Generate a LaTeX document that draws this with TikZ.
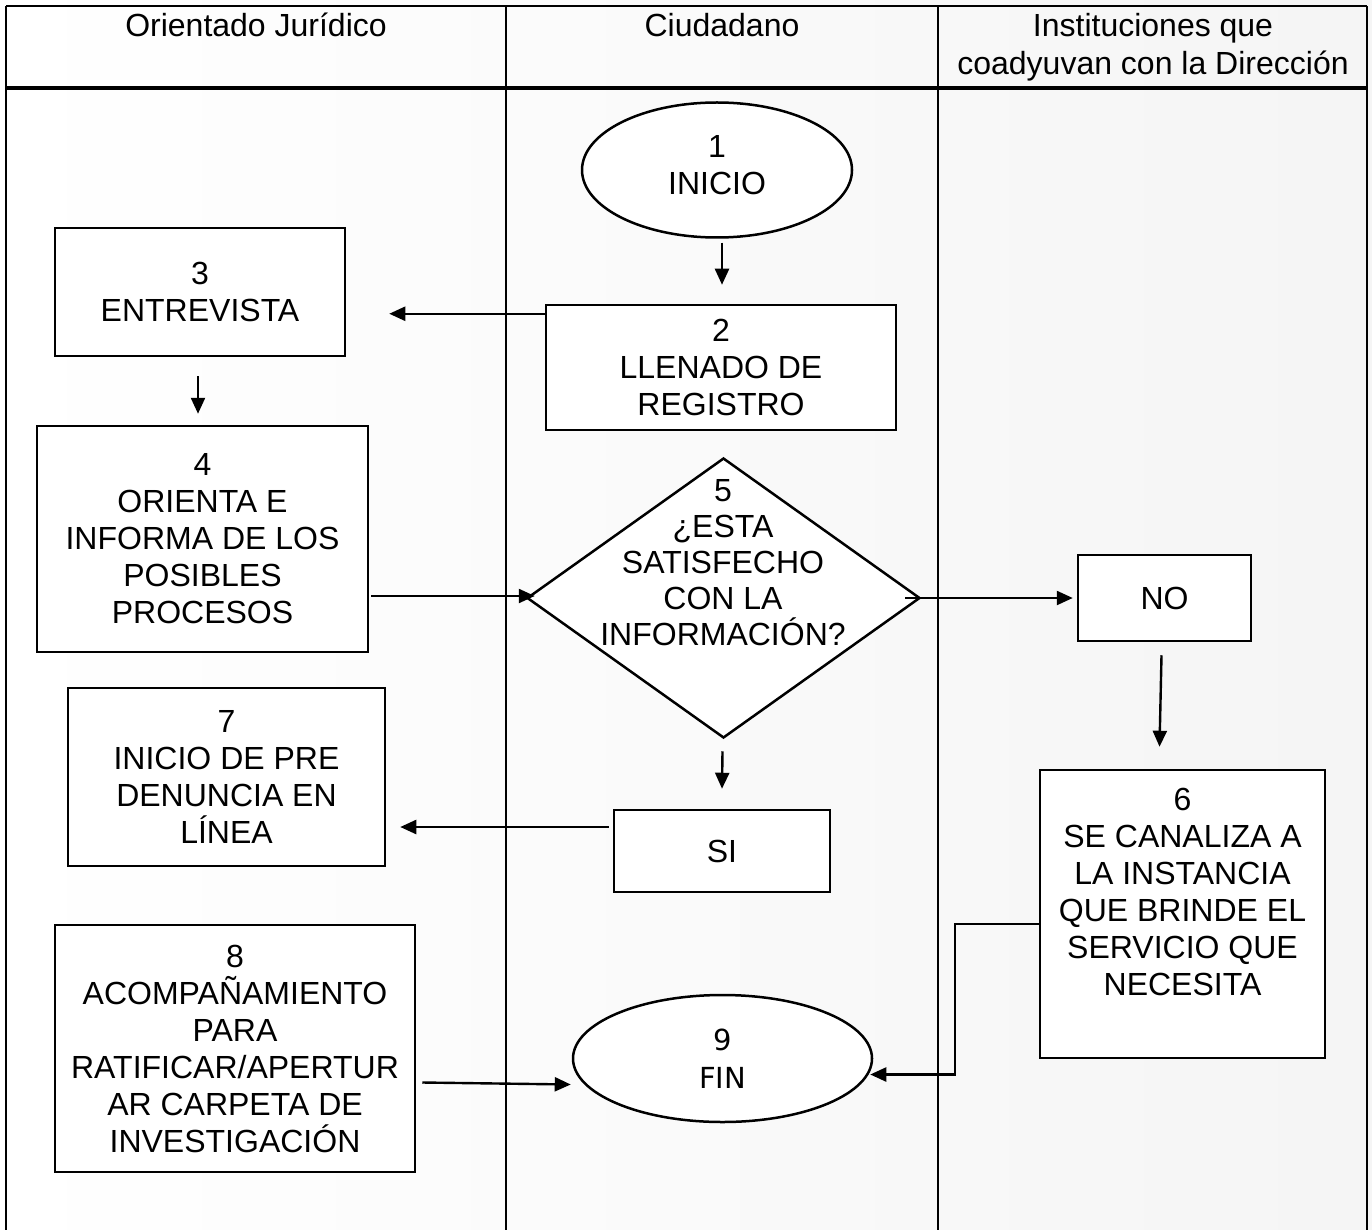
\documentclass[tikz,border=0pt]{standalone}
\usepackage{fontspec}
\setmainfont{Liberation Sans}
\newfontfamily\djv{DejaVu Sans}
\usetikzlibrary{shapes.geometric,arrows.meta,calc}
\begin{document}
\begin{tikzpicture}[x=1pt,y=-1pt,
  nodefont/.style={font=\fontsize{32}{37}\selectfont},
  box/.style={draw, line width=2.5pt, fill=white, rectangle, align=center, inner sep=0pt, nodefont},
  ell/.style={draw, line width=2.5pt, fill=white, ellipse, align=center, inner sep=0pt, nodefont},
  txt/.style={align=center, inner sep=0pt, nodefont},
  arr/.style={line width=2.4pt, -{Triangle[length=16pt,width=14pt]}},
  lane/.style={line width=2.3pt},
  hdr/.style={font=\fontsize{32}{38}\selectfont, align=center, inner sep=0pt, anchor=north}
]
\useasboundingbox (0,0) rectangle (1372,1230);
\shade[left color=white, right color=black!4] (0,0) rectangle (1372,1230);

% swimlane table
\draw[lane] (6,6) -- (1367,6);
\draw[lane] (6,6) -- (6,1230);
\draw[lane] (1367,6) -- (1367,1230);
\draw[lane] (506,6) -- (506,1230);
\draw[lane] (938,6) -- (938,1230);
\draw[line width=3.5pt] (6,88) -- (1367,88);

\node[hdr] (h1) at (256,13) {Orientado Jurídico};
\node[hdr] (h2) at (722,13) {Ciudadano};
\node[hdr] (h3) at (1153,13) {Instituciones que\\coadyuvan con la Dirección};

% nodes
\node[ell, minimum width=270pt, minimum height=135pt] (n1) at (717,170) {1\\INICIO\\[-39pt]\strut};
\node[box, minimum width=350pt, minimum height=125pt] (n2) at (721,367.5) {2\\LLENADO DE\\REGISTRO};
\node[box, minimum width=290pt, minimum height=128pt] (n3) at (200,292) {3\\ENTREVISTA};
\node[box, minimum width=331pt, minimum height=226pt] (n4) at (202.5,539) {4\\ORIENTA E\\INFORMA DE LOS\\POSIBLES\\PROCESOS};
\node[draw, diamond, line width=2.5pt, fill=white, inner sep=0pt, minimum width=393pt, minimum height=280pt] (n5) at (723.5,598) {};
\node[txt, font=\fontsize{32}{36}\selectfont] (t5) at (723,563) {5\\¿ESTA\\SATISFECHO\\CON LA\\INFORMACIÓN?};
\node[box, minimum width=173pt, minimum height=86pt] (no) at (1164.5,598) {NO};
\node[box, minimum width=285pt, minimum height=288pt] (n6) at (1182.5,914) {6\\SE CANALIZA A\\LA INSTANCIA\\QUE BRINDE EL\\SERVICIO QUE\\NECESITA\\[-4pt]\strut};
\node[box, minimum width=317pt, minimum height=178pt] (n7) at (226.5,777) {7\\INICIO DE PRE\\DENUNCIA EN\\LÍNEA};
\node[box, minimum width=216pt, minimum height=82pt] (si) at (722,851) {SI};
\node[box, minimum width=360pt, minimum height=247pt] (n8) at (235,1048.5) {8\\ACOMPAÑAMIENTO\\PARA\\RATIFICAR/APERTUR\\AR CARPETA DE\\INVESTIGACIÓN};
\node[ell, minimum width=299pt, minimum height=127pt, font=\djv\fontsize{29}{38}\selectfont] (n9) at (722.5,1058.5) {9\\FIN};

% connectors
\draw[arr] ($(n1.south)+(5,4)$) -- ($(n2.north)+(1,-19)$);
\path ($(n2.north west)+(0,10)$) coordinate (a2);
\draw[arr] (a2) -- ($(n3.east|-a2)+(43,0)$);
\draw[arr] ($(n3.south)+(-2,19)$) -- ($(n4.north)+(-4.5,-11)$);
\path ($(n4.east)+(2,57)$) coordinate (a4);
\draw[arr] (a4) -- ($(n5.west|-a4)+(9,0)$);
\draw[arr] ($(n5.east)+(-16,0)$) -- ($(no.west)+(-4,0)$);
\draw[arr] ($(no.south)+(-3,13)$) -- ($(n6.north)+(-23,-22)$);
\draw[arr] ($(n5.south)+(-1,12)$) -- ($(si.north)+(0,-20)$);
\path ($(si.west)+(-4,-24)$) coordinate (asi);
\draw[arr] (asi) -- ($(n7.east|-asi)+(14,0)$);
\draw[arr] ($(n6.west)+(0,10)$) -| ($(n9.east)+(82,16)$) -- ($(n9.east)+(-3,16)$);
\draw[arr] ($(n8.east)+(6,34)$) -- ($(n9.west)+(-1,26)$);
\end{tikzpicture}
\end{document}
